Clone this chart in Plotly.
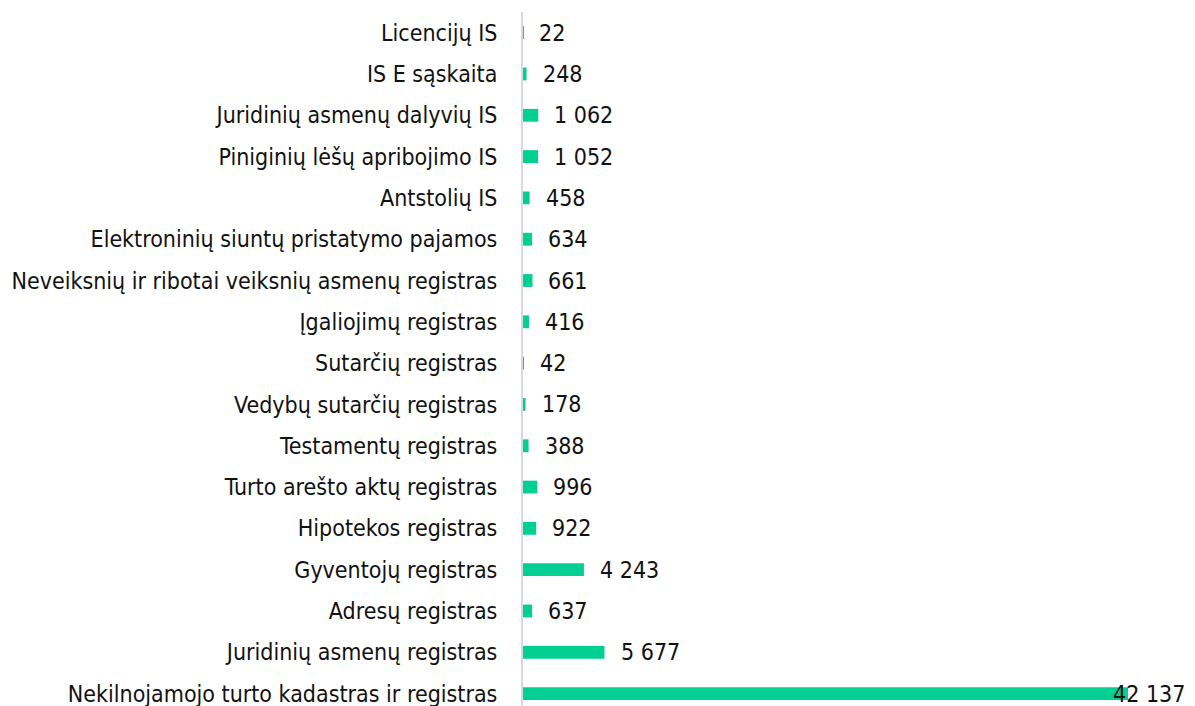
import plotly.graph_objects as go

categories = [
    "Licencijų IS",
    "IS E sąskaita",
    "Juridinių asmenų dalyvių IS",
    "Piniginių lėšų apribojimo IS",
    "Antstolių IS",
    "Elektroninių siuntų pristatymo pajamos",
    "Neveiksnių ir ribotai veiksnių asmenų registras",
    "Įgaliojimų registras",
    "Sutarčių registras",
    "Vedybų sutarčių registras",
    "Testamentų registras",
    "Turto arešto aktų registras",
    "Hipotekos registras",
    "Gyventojų registras",
    "Adresų registras",
    "Juridinių asmenų registras",
    "Nekilnojamojo turto kadastras ir registras",
]
values = [22, 248, 1062, 1052, 458, 634, 661, 416, 42, 178, 388, 996, 922, 4243, 637, 5677, 42137]

BAR_COLOR = "#00D092"
FONT = "DejaVu Sans Condensed"
FS = 23

fig = go.Figure()
fig.add_trace(go.Bar(
    x=values, y=categories, orientation="h",
    marker=dict(color=BAR_COLOR, line=dict(width=0)),
    width=0.31, hoverinfo="x+y",
))

vmax = max(values)
for c, v in zip(categories, values):
    fig.add_annotation(
        x=v, y=c, xref="x", yref="y",
        text=f"{v:,}".replace(",", " "),
        showarrow=False, xanchor="left", yanchor="middle",
        xshift=14 if v != vmax else -17,
        font=dict(family=FONT, size=FS, color="#111111"),
    )

# page body has an 8px margin, so the figure is drawn 8px smaller
fig.update_layout(
    width=1187, height=698,
    margin=dict(l=515, r=67, t=4, b=0, autoexpand=False),
    paper_bgcolor="white", plot_bgcolor="white",
    showlegend=False,
    font=dict(family=FONT, size=FS, color="#111111"),
)
fig.update_xaxes(range=[0, vmax], showticklabels=False, showgrid=False,
                 zeroline=False, showline=False, fixedrange=True)
fig.update_yaxes(type="category", categoryorder="array", categoryarray=categories,
                 range=[16.3, -0.5], showgrid=False, zeroline=False,
                 showline=True, linecolor="#D9D9D9", linewidth=2,
                 ticks="outside", ticklen=19, tickcolor="rgba(0,0,0,0)",
                 tickfont=dict(family=FONT, size=FS, color="#111111"),
                 automargin=False)

fig.write_html("out.html")
